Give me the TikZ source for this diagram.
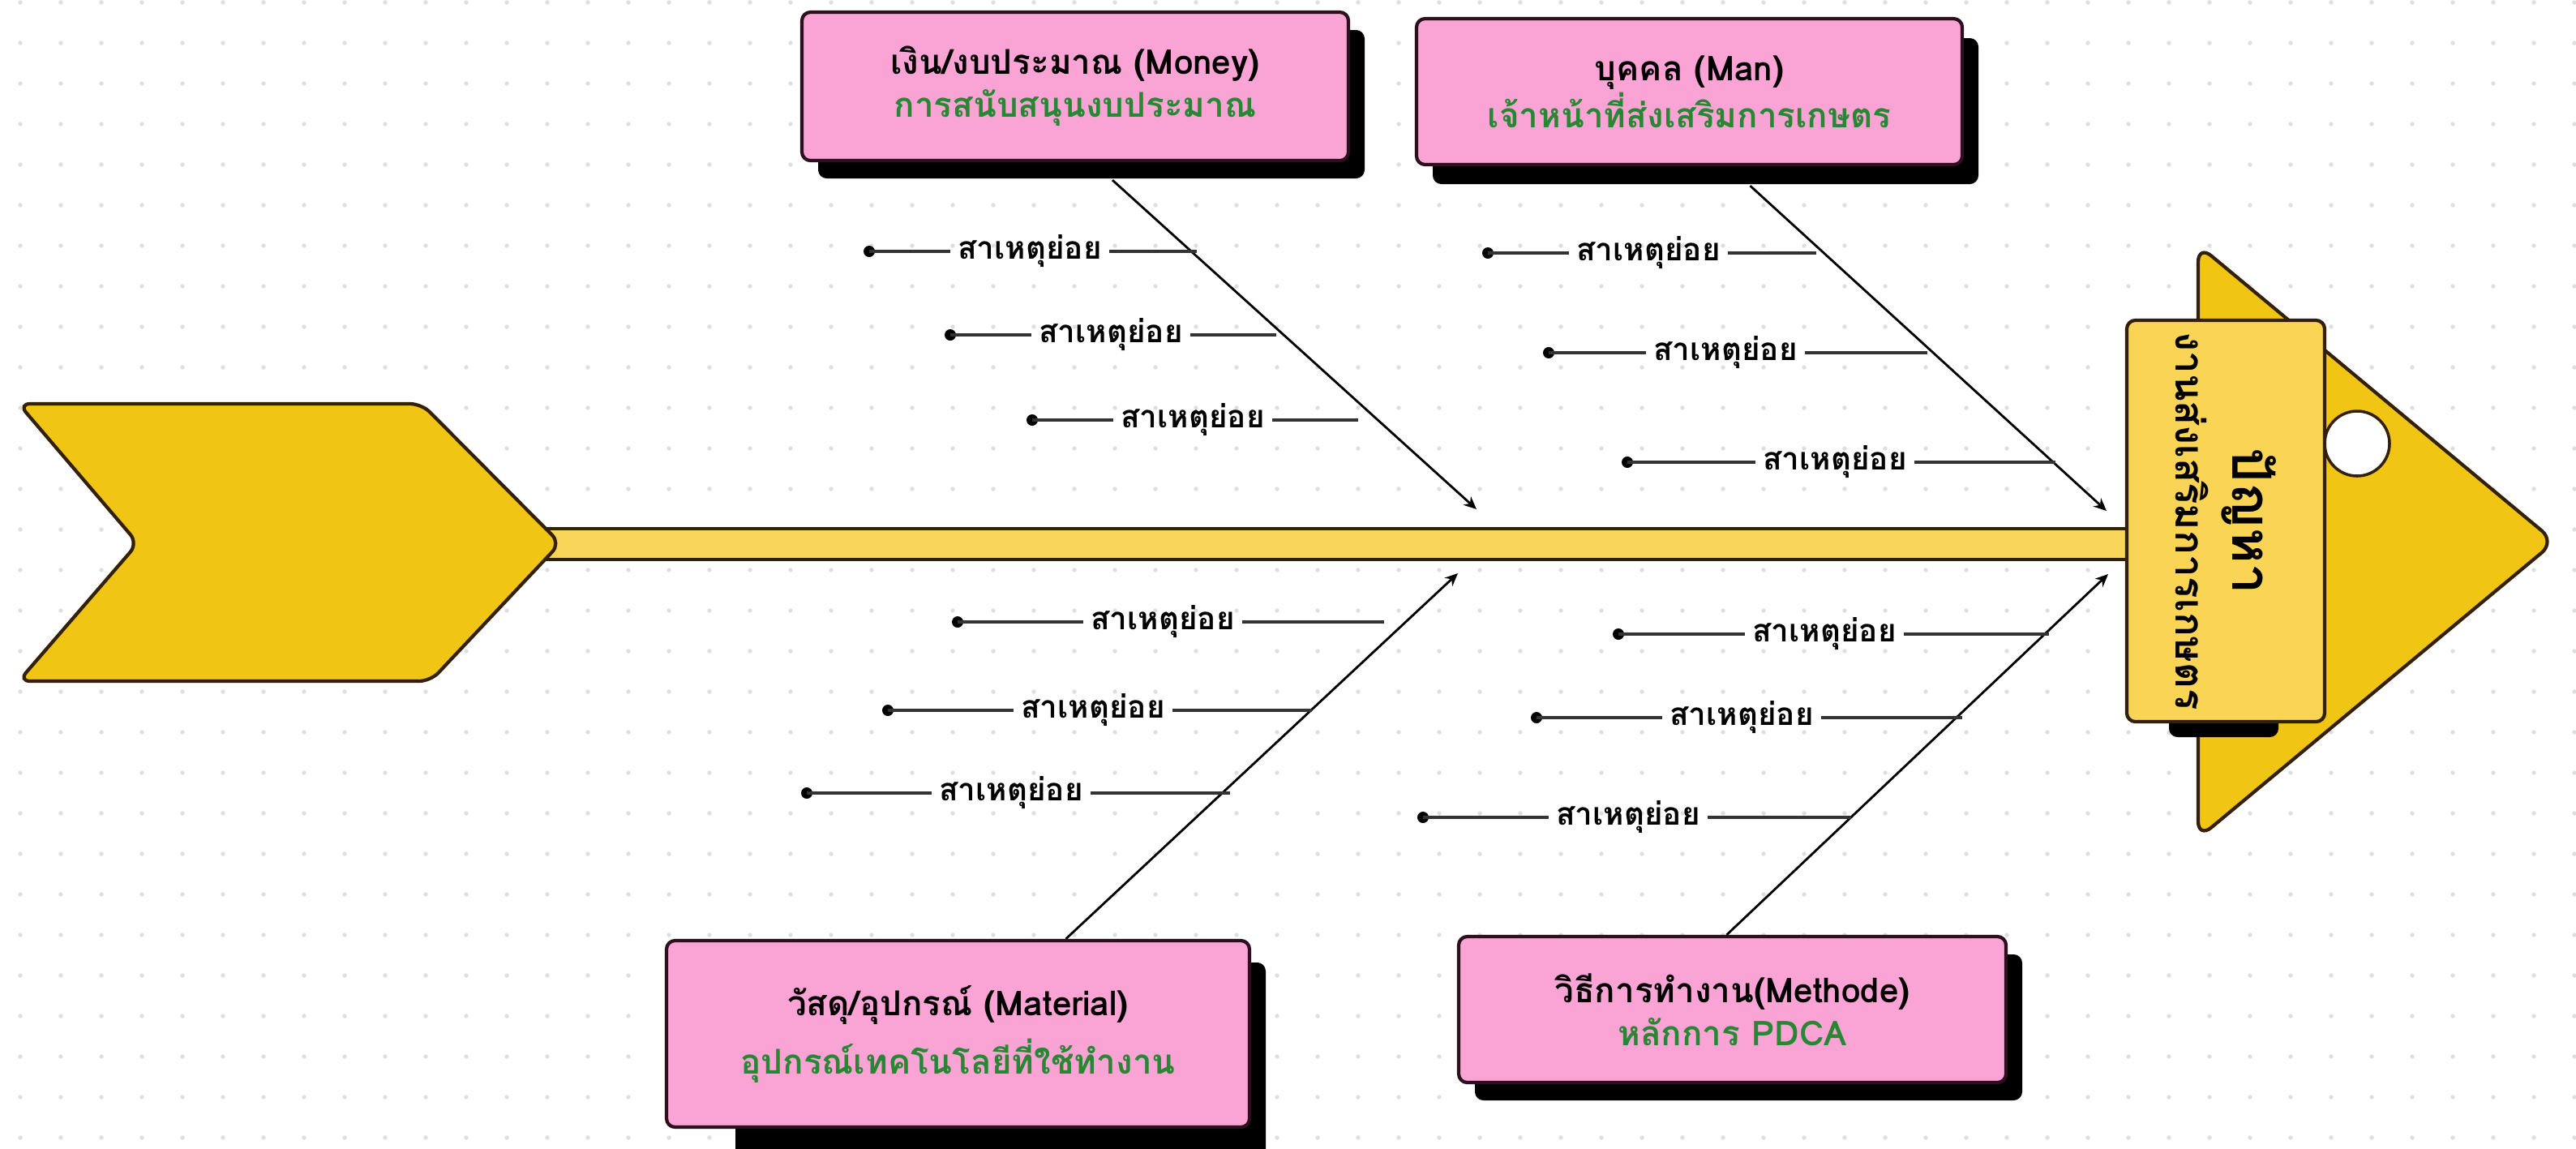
\documentclass[tikz,border=0pt]{standalone}
\usepackage{fontspec}
\setmainfont[Script=Thai]{Loma}
\usepackage{xcolor}
\usetikzlibrary{arrows.meta, shadows}

\definecolor{boxpink}{RGB}{250,164,214}
\definecolor{boxedge}{RGB}{45,15,30}
\definecolor{leafgreen}{RGB}{40,135,50}
\definecolor{fishgold}{RGB}{240,197,20}
\definecolor{spineyel}{RGB}{249,214,90}
\definecolor{headyel}{RGB}{250,212,85}
\definecolor{edge}{RGB}{50,32,8}
\definecolor{griddot}{RGB}{222,222,222}

\begin{document}
\begin{tikzpicture}[
    cause/.style={draw=boxedge, line width=1.2pt, fill=boxpink, rounded corners=3pt,
      align=center, font=\bfseries\fontsize{12}{15}\selectfont},
    boxshadow/.style={drop shadow={shadow xshift=0.2cm, shadow yshift=#1, fill=black, opacity=1}},
    boxshadow/.default=-0.22cm,
    bone/.style={line width=0.8pt, -{Stealth[length=4.5pt, width=4pt]}},
    sub/.style={line width=1.1pt, black!80},
    subtxt/.style={font=\bfseries\fontsize{11}{13}\selectfont, inner xsep=0.08cm, inner ysep=0pt}
]
    \useasboundingbox (0,0) rectangle (31.77,-14.16);
    \fill[white] (0,0) rectangle (31.77,-14.16);

    % dotted paper
    \foreach \i in {0,...,63}
        \foreach \j in {0,...,28}
            \fill[griddot] (0.25+\i*0.5,-0.03-\j*0.5) circle (0.027);

    % spine, tail and head
    \draw[fill=spineyel, draw=edge, line width=1pt] (6.5,-6.52) rectangle (26.3,-6.90);
    \draw[fill=fishgold, draw=edge, line width=1.2pt, rounded corners=4pt]
        (0.23,-4.98) -- (5.20,-4.98) -- (6.91,-6.70) -- (5.31,-8.40) -- (0.23,-8.40) -- (1.70,-6.70) -- cycle;
    \draw[fill=fishgold, draw=edge, line width=1.2pt, rounded corners=6pt]
        (27.11,-3.02) -- (31.51,-6.68) -- (27.11,-10.34) -- cycle;
    \draw[fill=white, draw=edge, line width=1pt] (29.07,-5.47) circle (0.40);

    \fill[black, rounded corners=3pt] (26.75,-8.70) rectangle (28.10,-9.09);
    \node[draw=edge, line width=1.2pt, fill=headyel, rounded corners=3pt, rotate=-90,
          minimum width=4.95cm, minimum height=2.44cm, align=center,
          font=\bfseries\fontsize{14}{20}\selectfont] (prob) at (27.45,-6.425)
        {{\fontsize{19}{20}\selectfont ปัญหา}\\งานส่งเสริมการเกษตร};

    % main causes
    \node[cause, boxshadow, minimum width=6.74cm, minimum height=1.83cm] (mny) at (13.26,-1.065)
        {เงิน/งบประมาณ (Money)\\\textcolor{leafgreen}{การสนับสนุนงบประมาณ}};
    \node[cause, boxshadow=-0.24cm, minimum width=6.73cm, minimum height=1.80cm] (man) at (20.835,-1.13)
        {บุคคล (Man)\\\textcolor{leafgreen}{เจ้าหน้าที่ส่งเสริมการเกษตร}};
    \fill[black, rounded corners=3pt] (9.07,-14.30) rectangle (15.61,-11.87);
    \node[cause, minimum width=7.19cm, minimum height=2.30cm] (mat) at (11.815,-12.75)
        {วัสดุ/อุปกรณ์ (Material)\\[4pt]\textcolor{leafgreen}{อุปกรณ์เทคโนโลยีที่ใช้ทำงาน}};
    \node[cause, boxshadow, minimum width=6.75cm, minimum height=1.80cm] (met) at (21.365,-12.45)
        {วิธีการทำงาน(Methode)\\\textcolor{leafgreen}{หลักการ PDCA}};

    \coordinate (mnyT) at (18.21,-6.28);
    \coordinate (manT) at (25.98,-6.30);
    \coordinate (matT) at (17.98,-7.07);
    \coordinate (metT) at (26.00,-7.08);

    \draw[bone] ([xshift=0.46cm, yshift=-0.22cm]mny.south) -- (mnyT);
    \draw[bone] ([xshift=0.75cm, yshift=-0.24cm]man.south) -- (manT);
    \draw[bone] ([xshift=1.33cm]mat.north) -- (matT);
    \draw[bone] ([xshift=-0.07cm]met.north) -- (metT);

    % sub causes: name / dot x / y / text x / end x
    \foreach \nm/\dx/\dy/\tx/\ex in {
        m1/10.72/3.10/12.70/14.76, m2/11.72/4.13/13.70/15.74, m3/12.73/5.18/14.71/16.75,
        p1/18.35/3.12/20.33/22.40, p2/19.10/4.35/21.28/23.77, p3/20.07/5.70/22.63/25.35,
        t1/11.81/7.67/14.34/17.07, t2/10.95/8.76/13.48/16.18, t3/9.95/9.78/12.47/15.17,
        w1/19.96/7.82/22.50/25.27, w2/18.95/8.85/21.48/24.20, w3/17.55/10.08/20.08/22.83}
    {
        \coordinate (d\nm) at (\dx,-\dy);
        \coordinate (e\nm) at (\ex,-\dy);
        \node[subtxt] (\nm) at (\tx,-\dy) {สาเหตุย่อย};
        \fill (d\nm) circle (0.07);
        \draw[sub] (d\nm) -- (\nm.west);
        \draw[sub] (\nm.east) -- (e\nm);
    }
\end{tikzpicture}
\end{document}
